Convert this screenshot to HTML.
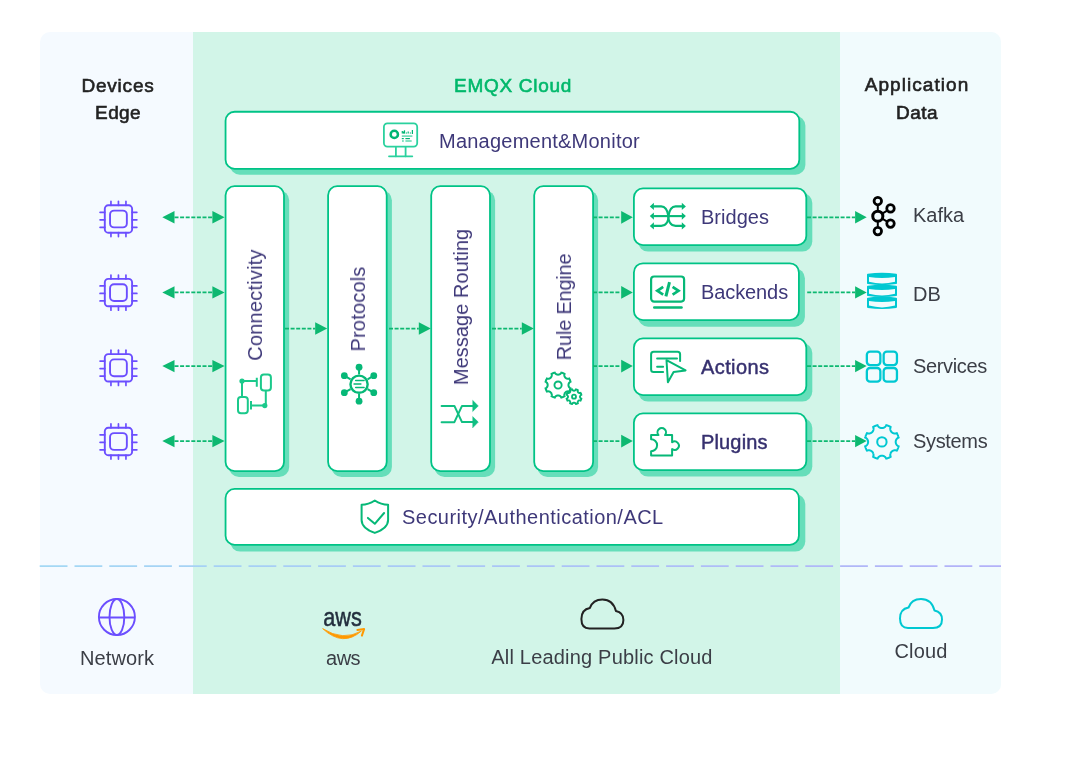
<!DOCTYPE html>
<html><head><meta charset="utf-8"><style>
*{margin:0;padding:0;box-sizing:border-box}
html,body{width:1080px;height:774px;background:#fff;overflow:hidden;position:relative;font-family:"Liberation Sans",sans-serif}
.panel{position:absolute;left:40px;top:32px;width:961px;height:662px;border-radius:10px;background:#F5FAFF;overflow:hidden}
.green{position:absolute;left:193px;top:32px;width:647px;height:662px;background:#D2F5E8}
.rightp{position:absolute;left:840px;top:32px;width:161px;height:662px;background:#F1FBFD;border-radius:0 10px 10px 0}
.bx{position:absolute;background:#fff;border:2px solid #00C386}
.t{position:absolute;white-space:nowrap;-webkit-font-smoothing:antialiased;will-change:transform}
svg{position:absolute;left:0;top:0;will-change:transform}
</style></head><body>
<div class="panel"></div>
<div class="green"></div>
<div class="rightp"></div>
<svg width="1080" height="774" viewBox="0 0 1080 774">
<rect x="229.85" y="115.85" width="575.55" height="58.95" rx="10" fill="#66DEBA"/>
<rect x="225.55" y="111.75" width="573.75" height="57.15" rx="9.10" fill="#fff" stroke="#00C386" stroke-width="1.8"/>
<rect x="228.95" y="190.20" width="60.25" height="286.80" rx="10" fill="#66DEBA"/>
<rect x="225.55" y="186.10" width="58.45" height="285.00" rx="9.10" fill="#fff" stroke="#00C386" stroke-width="1.8"/>
<rect x="331.50" y="190.20" width="60.40" height="286.80" rx="10" fill="#66DEBA"/>
<rect x="328.10" y="186.10" width="58.60" height="285.00" rx="9.10" fill="#fff" stroke="#00C386" stroke-width="1.8"/>
<rect x="434.50" y="190.20" width="60.60" height="286.80" rx="10" fill="#66DEBA"/>
<rect x="431.20" y="186.10" width="58.80" height="285.00" rx="9.10" fill="#fff" stroke="#00C386" stroke-width="1.8"/>
<rect x="537.40" y="190.20" width="60.70" height="286.80" rx="10" fill="#66DEBA"/>
<rect x="534.20" y="186.10" width="58.90" height="285.00" rx="9.10" fill="#fff" stroke="#00C386" stroke-width="1.8"/>
<rect x="638.10" y="193.10" width="174.20" height="58.50" rx="10" fill="#66DEBA"/>
<rect x="633.90" y="188.40" width="172.40" height="56.70" rx="9.10" fill="#fff" stroke="#00C386" stroke-width="1.8"/>
<rect x="638.10" y="268.20" width="166.80" height="58.60" rx="10" fill="#66DEBA"/>
<rect x="633.90" y="263.30" width="165.00" height="56.80" rx="9.10" fill="#fff" stroke="#00C386" stroke-width="1.8"/>
<rect x="638.10" y="343.10" width="174.20" height="58.50" rx="10" fill="#66DEBA"/>
<rect x="633.90" y="338.40" width="172.40" height="56.70" rx="9.10" fill="#fff" stroke="#00C386" stroke-width="1.8"/>
<rect x="638.10" y="418.10" width="174.20" height="58.50" rx="10" fill="#66DEBA"/>
<rect x="633.90" y="413.40" width="172.40" height="56.70" rx="9.10" fill="#fff" stroke="#00C386" stroke-width="1.8"/>
<rect x="230.15" y="493.97" width="575.15" height="57.63" rx="10" fill="#66DEBA"/>
<rect x="225.55" y="488.97" width="573.35" height="55.83" rx="9.10" fill="#fff" stroke="#00C386" stroke-width="1.8"/>
<line x1="174.5" y1="217.3" x2="212.4" y2="217.3" stroke="#0DB870" stroke-width="1.7" stroke-dasharray="4 1.6"/>
<path d="M224.6 217.3 L212.4 211.10000000000002 L212.4 223.5 Z" fill="#0DB870"/>
<path d="M162.3 217.3 L174.5 211.10000000000002 L174.5 223.5 Z" fill="#0DB870"/>
<line x1="174.5" y1="292.4" x2="212.4" y2="292.4" stroke="#0DB870" stroke-width="1.7" stroke-dasharray="4 1.6"/>
<path d="M224.6 292.4 L212.4 286.2 L212.4 298.59999999999997 Z" fill="#0DB870"/>
<path d="M162.3 292.4 L174.5 286.2 L174.5 298.59999999999997 Z" fill="#0DB870"/>
<line x1="174.5" y1="366.1" x2="212.4" y2="366.1" stroke="#0DB870" stroke-width="1.7" stroke-dasharray="4 1.6"/>
<path d="M224.6 366.1 L212.4 359.90000000000003 L212.4 372.3 Z" fill="#0DB870"/>
<path d="M162.3 366.1 L174.5 359.90000000000003 L174.5 372.3 Z" fill="#0DB870"/>
<line x1="174.5" y1="441.1" x2="212.4" y2="441.1" stroke="#0DB870" stroke-width="1.7" stroke-dasharray="4 1.6"/>
<path d="M224.6 441.1 L212.4 434.90000000000003 L212.4 447.3 Z" fill="#0DB870"/>
<path d="M162.3 441.1 L174.5 434.90000000000003 L174.5 447.3 Z" fill="#0DB870"/>
<line x1="285" y1="328.6" x2="315.2" y2="328.6" stroke="#0DB870" stroke-width="1.7" stroke-dasharray="4 1.6"/>
<path d="M327.2 328.6 L315.2 322.35 L315.2 334.85 Z" fill="#0DB870"/>
<line x1="389" y1="328.6" x2="418.8" y2="328.6" stroke="#0DB870" stroke-width="1.7" stroke-dasharray="4 1.6"/>
<path d="M430.8 328.6 L418.8 322.35 L418.8 334.85 Z" fill="#0DB870"/>
<line x1="492" y1="328.6" x2="521.8" y2="328.6" stroke="#0DB870" stroke-width="1.7" stroke-dasharray="4 1.6"/>
<path d="M533.8 328.6 L521.8 322.35 L521.8 334.85 Z" fill="#0DB870"/>
<line x1="593" y1="217.3" x2="621.1999999999999" y2="217.3" stroke="#0DB870" stroke-width="1.7" stroke-dasharray="4 1.6"/>
<path d="M632.8 217.3 L621.1999999999999 210.95000000000002 L621.1999999999999 223.65 Z" fill="#0DB870"/>
<line x1="593" y1="292.4" x2="621.1999999999999" y2="292.4" stroke="#0DB870" stroke-width="1.7" stroke-dasharray="4 1.6"/>
<path d="M632.8 292.4 L621.1999999999999 286.04999999999995 L621.1999999999999 298.75 Z" fill="#0DB870"/>
<line x1="593" y1="366.1" x2="621.1999999999999" y2="366.1" stroke="#0DB870" stroke-width="1.7" stroke-dasharray="4 1.6"/>
<path d="M632.8 366.1 L621.1999999999999 359.75 L621.1999999999999 372.45000000000005 Z" fill="#0DB870"/>
<line x1="593" y1="441.1" x2="621.1999999999999" y2="441.1" stroke="#0DB870" stroke-width="1.7" stroke-dasharray="4 1.6"/>
<path d="M632.8 441.1 L621.1999999999999 434.75 L621.1999999999999 447.45000000000005 Z" fill="#0DB870"/>
<line x1="807" y1="217.3" x2="855.1" y2="217.3" stroke="#0DB870" stroke-width="1.7" stroke-dasharray="4 1.6"/>
<path d="M866.7 217.3 L855.1 211.10000000000002 L855.1 223.5 Z" fill="#0DB870"/>
<line x1="807.2" y1="292.4" x2="855.1" y2="292.4" stroke="#0DB870" stroke-width="1.7" stroke-dasharray="4 1.6"/>
<path d="M866.7 292.4 L855.1 286.2 L855.1 298.59999999999997 Z" fill="#0DB870"/>
<line x1="807" y1="366.1" x2="855.1" y2="366.1" stroke="#0DB870" stroke-width="1.7" stroke-dasharray="4 1.6"/>
<path d="M866.7 366.1 L855.1 359.90000000000003 L855.1 372.3 Z" fill="#0DB870"/>
<line x1="807" y1="441.1" x2="855.1" y2="441.1" stroke="#0DB870" stroke-width="1.7" stroke-dasharray="4 1.6"/>
<path d="M866.7 441.1 L855.1 434.90000000000003 L855.1 447.3 Z" fill="#0DB870"/>
<g fill="none" stroke="#6B4EFF" stroke-width="1.9" stroke-linecap="round"><rect x="104.8" y="205.3" width="27.3" height="27.4" rx="3.5"/><rect x="110.05" y="210.6" width="16.8" height="16.8" rx="4"/></g><g fill="none" stroke="#6B4EFF" stroke-width="1.7" stroke-linecap="round"><line x1="110.95" y1="205.3" x2="110.95" y2="201.4"/><line x1="110.95" y1="232.7" x2="110.95" y2="236.6"/><line x1="104.8" y1="212.3" x2="100.05000000000001" y2="212.3"/><line x1="132.1" y1="212.3" x2="136.85" y2="212.3"/><line x1="118.45" y1="205.3" x2="118.45" y2="201.4"/><line x1="118.45" y1="232.7" x2="118.45" y2="236.6"/><line x1="104.8" y1="219.8" x2="100.05000000000001" y2="219.8"/><line x1="132.1" y1="219.8" x2="136.85" y2="219.8"/><line x1="125.95" y1="205.3" x2="125.95" y2="201.4"/><line x1="125.95" y1="232.7" x2="125.95" y2="236.6"/><line x1="104.8" y1="227.3" x2="100.05000000000001" y2="227.3"/><line x1="132.1" y1="227.3" x2="136.85" y2="227.3"/></g>
<g fill="none" stroke="#6B4EFF" stroke-width="1.9" stroke-linecap="round"><rect x="104.8" y="278.90000000000003" width="27.3" height="27.4" rx="3.5"/><rect x="110.05" y="284.20000000000005" width="16.8" height="16.8" rx="4"/></g><g fill="none" stroke="#6B4EFF" stroke-width="1.7" stroke-linecap="round"><line x1="110.95" y1="278.90000000000003" x2="110.95" y2="275.0"/><line x1="110.95" y1="306.3" x2="110.95" y2="310.20000000000005"/><line x1="104.8" y1="285.90000000000003" x2="100.05000000000001" y2="285.90000000000003"/><line x1="132.1" y1="285.90000000000003" x2="136.85" y2="285.90000000000003"/><line x1="118.45" y1="278.90000000000003" x2="118.45" y2="275.0"/><line x1="118.45" y1="306.3" x2="118.45" y2="310.20000000000005"/><line x1="104.8" y1="293.40000000000003" x2="100.05000000000001" y2="293.40000000000003"/><line x1="132.1" y1="293.40000000000003" x2="136.85" y2="293.40000000000003"/><line x1="125.95" y1="278.90000000000003" x2="125.95" y2="275.0"/><line x1="125.95" y1="306.3" x2="125.95" y2="310.20000000000005"/><line x1="104.8" y1="300.90000000000003" x2="100.05000000000001" y2="300.90000000000003"/><line x1="132.1" y1="300.90000000000003" x2="136.85" y2="300.90000000000003"/></g>
<g fill="none" stroke="#6B4EFF" stroke-width="1.9" stroke-linecap="round"><rect x="104.8" y="354.1" width="27.3" height="27.4" rx="3.5"/><rect x="110.05" y="359.40000000000003" width="16.8" height="16.8" rx="4"/></g><g fill="none" stroke="#6B4EFF" stroke-width="1.7" stroke-linecap="round"><line x1="110.95" y1="354.1" x2="110.95" y2="350.2"/><line x1="110.95" y1="381.5" x2="110.95" y2="385.40000000000003"/><line x1="104.8" y1="361.1" x2="100.05000000000001" y2="361.1"/><line x1="132.1" y1="361.1" x2="136.85" y2="361.1"/><line x1="118.45" y1="354.1" x2="118.45" y2="350.2"/><line x1="118.45" y1="381.5" x2="118.45" y2="385.40000000000003"/><line x1="104.8" y1="368.6" x2="100.05000000000001" y2="368.6"/><line x1="132.1" y1="368.6" x2="136.85" y2="368.6"/><line x1="125.95" y1="354.1" x2="125.95" y2="350.2"/><line x1="125.95" y1="381.5" x2="125.95" y2="385.40000000000003"/><line x1="104.8" y1="376.1" x2="100.05000000000001" y2="376.1"/><line x1="132.1" y1="376.1" x2="136.85" y2="376.1"/></g>
<g fill="none" stroke="#6B4EFF" stroke-width="1.9" stroke-linecap="round"><rect x="104.8" y="427.8" width="27.3" height="27.4" rx="3.5"/><rect x="110.05" y="433.1" width="16.8" height="16.8" rx="4"/></g><g fill="none" stroke="#6B4EFF" stroke-width="1.7" stroke-linecap="round"><line x1="110.95" y1="427.8" x2="110.95" y2="423.9"/><line x1="110.95" y1="455.2" x2="110.95" y2="459.1"/><line x1="104.8" y1="434.8" x2="100.05000000000001" y2="434.8"/><line x1="132.1" y1="434.8" x2="136.85" y2="434.8"/><line x1="118.45" y1="427.8" x2="118.45" y2="423.9"/><line x1="118.45" y1="455.2" x2="118.45" y2="459.1"/><line x1="104.8" y1="442.3" x2="100.05000000000001" y2="442.3"/><line x1="132.1" y1="442.3" x2="136.85" y2="442.3"/><line x1="125.95" y1="427.8" x2="125.95" y2="423.9"/><line x1="125.95" y1="455.2" x2="125.95" y2="459.1"/><line x1="104.8" y1="449.8" x2="100.05000000000001" y2="449.8"/><line x1="132.1" y1="449.8" x2="136.85" y2="449.8"/></g>
<defs><linearGradient id="dg" gradientUnits="userSpaceOnUse" x1="40" x2="1001" y1="0" y2="0"><stop offset="0" stop-color="#A3D8F4"/><stop offset="1" stop-color="#B3B1F8"/></linearGradient></defs>
<line x1="39.7" y1="566.2" x2="1001" y2="566.2" stroke="url(#dg)" stroke-width="1.8" stroke-dasharray="27.8 7"/>
<g fill="none" stroke="#2BD19E" stroke-width="1.8" stroke-linecap="round"><rect x="383.9" y="123.4" width="33.3" height="23.2" rx="3.5"/><line x1="395.9" y1="147.5" x2="395.9" y2="156.3"/><line x1="405.6" y1="147.5" x2="405.6" y2="156.3"/><line x1="389" y1="156.3" x2="412.3" y2="156.3"/></g>
<circle cx="394.3" cy="134.4" r="3.65" fill="none" stroke="#00B574" stroke-width="2.5"/><g fill="none" stroke-width="1.2" stroke-linecap="butt"><g stroke="#00B574"><line x1="402.3" y1="131" x2="402.3" y2="133.6"/><line x1="403.5" y1="131.5" x2="403.5" y2="133.6"/><line x1="404.5" y1="130.3" x2="404.5" y2="133.6"/><line x1="406.4" y1="132.6" x2="406.4" y2="133.6"/><line x1="408.2" y1="131.5" x2="408.2" y2="133.6"/><line x1="410.4" y1="132.6" x2="410.4" y2="133.6"/><line x1="412.4" y1="130" x2="412.4" y2="134"/><line x1="401.8" y1="138.6" x2="403.8" y2="138.6"/><line x1="405.4" y1="138.6" x2="409.9" y2="138.6"/></g><g stroke="#5ED8AE" stroke-width="1.5"><line x1="401.8" y1="136.1" x2="412.4" y2="136.1"/><line x1="402" y1="141" x2="403.8" y2="141"/><line x1="405.4" y1="141" x2="411.7" y2="141"/></g></g>
<g transform="translate(232,368)" fill="none" stroke="#1BC98B" stroke-width="2" stroke-linecap="butt"><rect x="28.9" y="6.4" width="10" height="16.1" rx="3"/><rect x="6" y="28.9" width="9.8" height="16.4" rx="3"/><path d="M10 13.1 H24.8 M24.8 9.7 V18.8 M10 13.1 V28 M33.8 22.5 V37.6 H19 M19 32.9 V41.6"/><circle cx="10" cy="13.1" r="2.6" fill="#1BC98B" stroke="none"/><circle cx="32.8" cy="37.6" r="2.6" fill="#1BC98B" stroke="none"/></g>
<g fill="none" stroke="#06B877" stroke-width="2"><circle cx="359.06" cy="384.2" r="8.6" stroke-width="2.4"/><line x1="359.06" y1="374.40" x2="359.06" y2="367.20"/><circle cx="359.06" cy="367.20" r="3.4" fill="#06B877" stroke="none"/><line x1="350.57" y1="379.30" x2="344.34" y2="375.70"/><circle cx="344.34" cy="375.70" r="3.4" fill="#06B877" stroke="none"/><line x1="350.57" y1="389.10" x2="344.34" y2="392.70"/><circle cx="344.34" cy="392.70" r="3.4" fill="#06B877" stroke="none"/><line x1="359.06" y1="394.00" x2="359.06" y2="401.20"/><circle cx="359.06" cy="401.20" r="3.4" fill="#06B877" stroke="none"/><line x1="367.55" y1="389.10" x2="373.78" y2="392.70"/><circle cx="373.78" cy="392.70" r="3.4" fill="#06B877" stroke="none"/><line x1="367.55" y1="379.30" x2="373.78" y2="375.70"/><circle cx="373.78" cy="375.70" r="3.4" fill="#06B877" stroke="none"/><g stroke-width="1.5" stroke-linecap="round"><line x1="355.66" y1="380.5" x2="364.06" y2="380.5"/><line x1="354.06" y1="383.9" x2="360.86" y2="383.9"/><line x1="355.66" y1="387.5" x2="364.06" y2="387.5"/></g></g>
<g transform="translate(436,390)" fill="none" stroke="#10BF82" stroke-width="2" stroke-linecap="round" stroke-linejoin="round"><path d="M5.6 15.9 H18.4 L26 32.1 H37"/><path d="M5.6 32.2 H18.4 L26 15.9 H37"/><path d="M36.9 10.6 L42.3 15.9 L36.9 21.3 Z" fill="#10BF82" stroke-width="0.5"/><path d="M36.9 26.8 L42.3 32.1 L36.9 37.6 Z" fill="#10BF82" stroke-width="0.5"/></g>
<path d="M568.46 385.06 L568.46 385.13 L568.46 385.20 L568.47 385.26 L568.47 385.33 L568.48 385.40 L568.48 385.47 L568.49 385.54 L568.50 385.61 L568.51 385.68 L568.52 385.75 L568.54 385.82 L568.55 385.89 L568.57 385.96 L568.59 386.03 L568.61 386.10 L568.63 386.17 L568.65 386.24 L568.68 386.32 L568.70 386.39 L568.73 386.47 L568.77 386.54 L568.80 386.62 L568.83 386.69 L568.87 386.77 L568.92 386.85 L568.96 386.93 L569.01 387.02 L569.06 387.10 L569.12 387.18 L569.18 387.27 L569.25 387.36 L569.33 387.45 L569.41 387.55 L569.51 387.65 L569.62 387.76 L569.76 387.87 L569.93 387.99 L570.21 388.15 L570.54 388.32 L570.52 388.40 L570.50 388.48 L570.48 388.56 L570.45 388.64 L570.43 388.72 L570.40 388.80 L570.38 388.89 L570.35 388.97 L570.33 389.05 L570.30 389.13 L570.28 389.21 L570.25 389.29 L570.22 389.37 L570.19 389.45 L570.16 389.52 L570.13 389.60 L570.10 389.68 L570.07 389.76 L570.04 389.84 L570.01 389.92 L569.98 390.00 L569.95 390.07 L569.91 390.15 L569.88 390.23 L569.84 390.31 L569.81 390.38 L569.78 390.46 L569.74 390.54 L569.70 390.61 L569.67 390.69 L569.63 390.77 L569.59 390.84 L569.55 390.92 L569.52 390.99 L569.48 391.07 L569.44 391.14 L569.40 391.22 L569.36 391.29 L569.32 391.36 L569.27 391.44 L569.23 391.51 L569.19 391.58 L568.84 391.47 L568.53 391.38 L568.32 391.35 L568.14 391.33 L567.99 391.32 L567.85 391.33 L567.72 391.33 L567.60 391.34 L567.49 391.36 L567.38 391.38 L567.28 391.40 L567.18 391.42 L567.09 391.44 L567.00 391.47 L566.92 391.50 L566.83 391.52 L566.75 391.55 L566.68 391.58 L566.60 391.61 L566.53 391.65 L566.46 391.68 L566.39 391.71 L566.32 391.75 L566.25 391.78 L566.19 391.82 L566.13 391.86 L566.06 391.90 L566.00 391.93 L565.94 391.97 L565.89 392.01 L565.83 392.06 L565.77 392.10 L565.72 392.14 L565.67 392.18 L565.61 392.23 L565.56 392.27 L565.51 392.32 L565.46 392.37 L565.41 392.41 L565.37 392.46 L565.32 392.51 L565.27 392.56 L565.23 392.61 L565.18 392.67 L565.14 392.72 L565.10 392.77 L565.06 392.83 L565.01 392.89 L564.97 392.94 L564.93 393.00 L564.90 393.06 L564.86 393.13 L564.82 393.19 L564.78 393.25 L564.75 393.32 L564.71 393.39 L564.68 393.46 L564.65 393.53 L564.61 393.60 L564.58 393.68 L564.55 393.75 L564.52 393.83 L564.50 393.92 L564.47 394.00 L564.44 394.09 L564.42 394.18 L564.40 394.28 L564.38 394.38 L564.36 394.49 L564.34 394.60 L564.33 394.72 L564.33 394.85 L564.32 394.99 L564.33 395.14 L564.35 395.32 L564.38 395.53 L564.47 395.84 L564.58 396.19 L564.51 396.23 L564.44 396.27 L564.36 396.32 L564.29 396.36 L564.22 396.40 L564.14 396.44 L564.07 396.48 L563.99 396.52 L563.92 396.55 L563.84 396.59 L563.77 396.63 L563.69 396.67 L563.61 396.70 L563.54 396.74 L563.46 396.78 L563.38 396.81 L563.31 396.84 L563.23 396.88 L563.15 396.91 L563.07 396.95 L563.00 396.98 L562.92 397.01 L562.84 397.04 L562.76 397.07 L562.68 397.10 L562.60 397.13 L562.52 397.16 L562.45 397.19 L562.37 397.22 L562.29 397.25 L562.21 397.28 L562.13 397.30 L562.05 397.33 L561.97 397.35 L561.89 397.38 L561.80 397.40 L561.72 397.43 L561.64 397.45 L561.56 397.48 L561.48 397.50 L561.40 397.52 L561.32 397.54 L561.15 397.21 L560.99 396.93 L560.87 396.76 L560.76 396.62 L560.65 396.51 L560.55 396.41 L560.45 396.33 L560.36 396.25 L560.27 396.18 L560.18 396.12 L560.10 396.06 L560.02 396.01 L559.93 395.96 L559.85 395.92 L559.77 395.87 L559.69 395.83 L559.62 395.80 L559.54 395.77 L559.47 395.73 L559.39 395.70 L559.32 395.68 L559.24 395.65 L559.17 395.63 L559.10 395.61 L559.03 395.59 L558.96 395.57 L558.89 395.55 L558.82 395.54 L558.75 395.52 L558.68 395.51 L558.61 395.50 L558.54 395.49 L558.47 395.48 L558.40 395.48 L558.33 395.47 L558.26 395.47 L558.20 395.46 L558.13 395.46 L558.06 395.46 L557.99 395.46 L557.92 395.46 L557.86 395.47 L557.79 395.47 L557.72 395.48 L557.65 395.48 L557.58 395.49 L557.51 395.50 L557.44 395.51 L557.37 395.52 L557.30 395.54 L557.23 395.55 L557.16 395.57 L557.09 395.59 L557.02 395.61 L556.95 395.63 L556.88 395.65 L556.80 395.68 L556.73 395.70 L556.65 395.73 L556.58 395.77 L556.50 395.80 L556.43 395.83 L556.35 395.87 L556.27 395.92 L556.19 395.96 L556.10 396.01 L556.02 396.06 L555.94 396.12 L555.85 396.18 L555.76 396.25 L555.67 396.33 L555.57 396.41 L555.47 396.51 L555.36 396.62 L555.25 396.76 L555.13 396.93 L554.97 397.21 L554.80 397.54 L554.72 397.52 L554.64 397.50 L554.56 397.48 L554.48 397.45 L554.40 397.43 L554.32 397.40 L554.23 397.38 L554.15 397.35 L554.07 397.33 L553.99 397.30 L553.91 397.28 L553.83 397.25 L553.75 397.22 L553.67 397.19 L553.60 397.16 L553.52 397.13 L553.44 397.10 L553.36 397.07 L553.28 397.04 L553.20 397.01 L553.12 396.98 L553.05 396.95 L552.97 396.91 L552.89 396.88 L552.81 396.84 L552.74 396.81 L552.66 396.78 L552.58 396.74 L552.51 396.70 L552.43 396.67 L552.35 396.63 L552.28 396.59 L552.20 396.55 L552.13 396.52 L552.05 396.48 L551.98 396.44 L551.90 396.40 L551.83 396.36 L551.76 396.32 L551.68 396.27 L551.61 396.23 L551.54 396.19 L551.65 395.84 L551.74 395.53 L551.77 395.32 L551.79 395.14 L551.80 394.99 L551.79 394.85 L551.79 394.72 L551.78 394.60 L551.76 394.49 L551.74 394.38 L551.72 394.28 L551.70 394.18 L551.68 394.09 L551.65 394.00 L551.62 393.92 L551.60 393.83 L551.57 393.75 L551.54 393.68 L551.51 393.60 L551.47 393.53 L551.44 393.46 L551.41 393.39 L551.37 393.32 L551.34 393.25 L551.30 393.19 L551.26 393.13 L551.22 393.06 L551.19 393.00 L551.15 392.94 L551.11 392.89 L551.06 392.83 L551.02 392.77 L550.98 392.72 L550.94 392.67 L550.89 392.61 L550.85 392.56 L550.80 392.51 L550.75 392.46 L550.71 392.41 L550.66 392.37 L550.61 392.32 L550.56 392.27 L550.51 392.23 L550.45 392.18 L550.40 392.14 L550.35 392.10 L550.29 392.06 L550.23 392.01 L550.18 391.97 L550.12 391.93 L550.06 391.90 L549.99 391.86 L549.93 391.82 L549.87 391.78 L549.80 391.75 L549.73 391.71 L549.66 391.68 L549.59 391.65 L549.52 391.61 L549.44 391.58 L549.37 391.55 L549.29 391.52 L549.20 391.50 L549.12 391.47 L549.03 391.44 L548.94 391.42 L548.84 391.40 L548.74 391.38 L548.63 391.36 L548.52 391.34 L548.40 391.33 L548.27 391.33 L548.13 391.32 L547.98 391.33 L547.80 391.35 L547.59 391.38 L547.28 391.47 L546.93 391.58 L546.89 391.51 L546.85 391.44 L546.80 391.36 L546.76 391.29 L546.72 391.22 L546.68 391.14 L546.64 391.07 L546.60 390.99 L546.57 390.92 L546.53 390.84 L546.49 390.77 L546.45 390.69 L546.42 390.61 L546.38 390.54 L546.34 390.46 L546.31 390.38 L546.28 390.31 L546.24 390.23 L546.21 390.15 L546.17 390.07 L546.14 390.00 L546.11 389.92 L546.08 389.84 L546.05 389.76 L546.02 389.68 L545.99 389.60 L545.96 389.52 L545.93 389.45 L545.90 389.37 L545.87 389.29 L545.84 389.21 L545.82 389.13 L545.79 389.05 L545.77 388.97 L545.74 388.89 L545.72 388.80 L545.69 388.72 L545.67 388.64 L545.64 388.56 L545.62 388.48 L545.60 388.40 L545.58 388.32 L545.91 388.15 L546.19 387.99 L546.36 387.87 L546.50 387.76 L546.61 387.65 L546.71 387.55 L546.79 387.45 L546.87 387.36 L546.94 387.27 L547.00 387.18 L547.06 387.10 L547.11 387.02 L547.16 386.93 L547.20 386.85 L547.25 386.77 L547.29 386.69 L547.32 386.62 L547.35 386.54 L547.39 386.47 L547.42 386.39 L547.44 386.32 L547.47 386.24 L547.49 386.17 L547.51 386.10 L547.53 386.03 L547.55 385.96 L547.57 385.89 L547.58 385.82 L547.60 385.75 L547.61 385.68 L547.62 385.61 L547.63 385.54 L547.64 385.47 L547.64 385.40 L547.65 385.33 L547.65 385.26 L547.66 385.20 L547.66 385.13 L547.66 385.06 L547.66 384.99 L547.66 384.92 L547.65 384.86 L547.65 384.79 L547.64 384.72 L547.64 384.65 L547.63 384.58 L547.62 384.51 L547.61 384.44 L547.60 384.37 L547.58 384.30 L547.57 384.23 L547.55 384.16 L547.53 384.09 L547.51 384.02 L547.49 383.95 L547.47 383.88 L547.44 383.80 L547.42 383.73 L547.39 383.65 L547.35 383.58 L547.32 383.50 L547.29 383.43 L547.25 383.35 L547.20 383.27 L547.16 383.19 L547.11 383.10 L547.06 383.02 L547.00 382.94 L546.94 382.85 L546.87 382.76 L546.79 382.67 L546.71 382.57 L546.61 382.47 L546.50 382.36 L546.36 382.25 L546.19 382.13 L545.91 381.97 L545.58 381.80 L545.60 381.72 L545.62 381.64 L545.64 381.56 L545.67 381.48 L545.69 381.40 L545.72 381.32 L545.74 381.23 L545.77 381.15 L545.79 381.07 L545.82 380.99 L545.84 380.91 L545.87 380.83 L545.90 380.75 L545.93 380.67 L545.96 380.60 L545.99 380.52 L546.02 380.44 L546.05 380.36 L546.08 380.28 L546.11 380.20 L546.14 380.12 L546.17 380.05 L546.21 379.97 L546.24 379.89 L546.28 379.81 L546.31 379.74 L546.34 379.66 L546.38 379.58 L546.42 379.51 L546.45 379.43 L546.49 379.35 L546.53 379.28 L546.57 379.20 L546.60 379.13 L546.64 379.05 L546.68 378.98 L546.72 378.90 L546.76 378.83 L546.80 378.76 L546.85 378.68 L546.89 378.61 L546.93 378.54 L547.28 378.65 L547.59 378.74 L547.80 378.77 L547.98 378.79 L548.13 378.80 L548.27 378.79 L548.40 378.79 L548.52 378.78 L548.63 378.76 L548.74 378.74 L548.84 378.72 L548.94 378.70 L549.03 378.68 L549.12 378.65 L549.20 378.62 L549.29 378.60 L549.37 378.57 L549.44 378.54 L549.52 378.51 L549.59 378.47 L549.66 378.44 L549.73 378.41 L549.80 378.37 L549.87 378.34 L549.93 378.30 L549.99 378.26 L550.06 378.22 L550.12 378.19 L550.18 378.15 L550.23 378.11 L550.29 378.06 L550.35 378.02 L550.40 377.98 L550.45 377.94 L550.51 377.89 L550.56 377.85 L550.61 377.80 L550.66 377.75 L550.71 377.71 L550.75 377.66 L550.80 377.61 L550.85 377.56 L550.89 377.51 L550.94 377.45 L550.98 377.40 L551.02 377.35 L551.06 377.29 L551.11 377.23 L551.15 377.18 L551.19 377.12 L551.22 377.06 L551.26 376.99 L551.30 376.93 L551.34 376.87 L551.37 376.80 L551.41 376.73 L551.44 376.66 L551.47 376.59 L551.51 376.52 L551.54 376.44 L551.57 376.37 L551.60 376.29 L551.62 376.20 L551.65 376.12 L551.68 376.03 L551.70 375.94 L551.72 375.84 L551.74 375.74 L551.76 375.63 L551.78 375.52 L551.79 375.40 L551.79 375.27 L551.80 375.13 L551.79 374.98 L551.77 374.80 L551.74 374.59 L551.65 374.28 L551.54 373.93 L551.61 373.89 L551.68 373.85 L551.76 373.80 L551.83 373.76 L551.90 373.72 L551.98 373.68 L552.05 373.64 L552.13 373.60 L552.20 373.57 L552.28 373.53 L552.35 373.49 L552.43 373.45 L552.51 373.42 L552.58 373.38 L552.66 373.34 L552.74 373.31 L552.81 373.28 L552.89 373.24 L552.97 373.21 L553.05 373.17 L553.12 373.14 L553.20 373.11 L553.28 373.08 L553.36 373.05 L553.44 373.02 L553.52 372.99 L553.60 372.96 L553.67 372.93 L553.75 372.90 L553.83 372.87 L553.91 372.84 L553.99 372.82 L554.07 372.79 L554.15 372.77 L554.23 372.74 L554.32 372.72 L554.40 372.69 L554.48 372.67 L554.56 372.64 L554.64 372.62 L554.72 372.60 L554.80 372.58 L554.97 372.91 L555.13 373.19 L555.25 373.36 L555.36 373.50 L555.47 373.61 L555.57 373.71 L555.67 373.79 L555.76 373.87 L555.85 373.94 L555.94 374.00 L556.02 374.06 L556.10 374.11 L556.19 374.16 L556.27 374.20 L556.35 374.25 L556.43 374.29 L556.50 374.32 L556.58 374.35 L556.65 374.39 L556.73 374.42 L556.80 374.44 L556.88 374.47 L556.95 374.49 L557.02 374.51 L557.09 374.53 L557.16 374.55 L557.23 374.57 L557.30 374.58 L557.37 374.60 L557.44 374.61 L557.51 374.62 L557.58 374.63 L557.65 374.64 L557.72 374.64 L557.79 374.65 L557.86 374.65 L557.92 374.66 L557.99 374.66 L558.06 374.66 L558.13 374.66 L558.20 374.66 L558.26 374.65 L558.33 374.65 L558.40 374.64 L558.47 374.64 L558.54 374.63 L558.61 374.62 L558.68 374.61 L558.75 374.60 L558.82 374.58 L558.89 374.57 L558.96 374.55 L559.03 374.53 L559.10 374.51 L559.17 374.49 L559.24 374.47 L559.32 374.44 L559.39 374.42 L559.47 374.39 L559.54 374.35 L559.62 374.32 L559.69 374.29 L559.77 374.25 L559.85 374.20 L559.93 374.16 L560.02 374.11 L560.10 374.06 L560.18 374.00 L560.27 373.94 L560.36 373.87 L560.45 373.79 L560.55 373.71 L560.65 373.61 L560.76 373.50 L560.87 373.36 L560.99 373.19 L561.15 372.91 L561.32 372.58 L561.40 372.60 L561.48 372.62 L561.56 372.64 L561.64 372.67 L561.72 372.69 L561.80 372.72 L561.89 372.74 L561.97 372.77 L562.05 372.79 L562.13 372.82 L562.21 372.84 L562.29 372.87 L562.37 372.90 L562.45 372.93 L562.52 372.96 L562.60 372.99 L562.68 373.02 L562.76 373.05 L562.84 373.08 L562.92 373.11 L563.00 373.14 L563.07 373.17 L563.15 373.21 L563.23 373.24 L563.31 373.28 L563.38 373.31 L563.46 373.34 L563.54 373.38 L563.61 373.42 L563.69 373.45 L563.77 373.49 L563.84 373.53 L563.92 373.57 L563.99 373.60 L564.07 373.64 L564.14 373.68 L564.22 373.72 L564.29 373.76 L564.36 373.80 L564.44 373.85 L564.51 373.89 L564.58 373.93 L564.47 374.28 L564.38 374.59 L564.35 374.80 L564.33 374.98 L564.32 375.13 L564.33 375.27 L564.33 375.40 L564.34 375.52 L564.36 375.63 L564.38 375.74 L564.40 375.84 L564.42 375.94 L564.44 376.03 L564.47 376.12 L564.50 376.20 L564.52 376.29 L564.55 376.37 L564.58 376.44 L564.61 376.52 L564.65 376.59 L564.68 376.66 L564.71 376.73 L564.75 376.80 L564.78 376.87 L564.82 376.93 L564.86 376.99 L564.90 377.06 L564.93 377.12 L564.97 377.18 L565.01 377.23 L565.06 377.29 L565.10 377.35 L565.14 377.40 L565.18 377.45 L565.23 377.51 L565.27 377.56 L565.32 377.61 L565.37 377.66 L565.41 377.71 L565.46 377.75 L565.51 377.80 L565.56 377.85 L565.61 377.89 L565.67 377.94 L565.72 377.98 L565.77 378.02 L565.83 378.06 L565.89 378.11 L565.94 378.15 L566.00 378.19 L566.06 378.22 L566.13 378.26 L566.19 378.30 L566.25 378.34 L566.32 378.37 L566.39 378.41 L566.46 378.44 L566.53 378.47 L566.60 378.51 L566.68 378.54 L566.75 378.57 L566.83 378.60 L566.92 378.62 L567.00 378.65 L567.09 378.68 L567.18 378.70 L567.28 378.72 L567.38 378.74 L567.49 378.76 L567.60 378.78 L567.72 378.79 L567.85 378.79 L567.99 378.80 L568.14 378.79 L568.32 378.77 L568.53 378.74 L568.84 378.65 L569.19 378.54 L569.23 378.61 L569.27 378.68 L569.32 378.76 L569.36 378.83 L569.40 378.90 L569.44 378.98 L569.48 379.05 L569.52 379.13 L569.55 379.20 L569.59 379.28 L569.63 379.35 L569.67 379.43 L569.70 379.51 L569.74 379.58 L569.78 379.66 L569.81 379.74 L569.84 379.81 L569.88 379.89 L569.91 379.97 L569.95 380.05 L569.98 380.12 L570.01 380.20 L570.04 380.28 L570.07 380.36 L570.10 380.44 L570.13 380.52 L570.16 380.60 L570.19 380.67 L570.22 380.75 L570.25 380.83 L570.28 380.91 L570.30 380.99 L570.33 381.07 L570.35 381.15 L570.38 381.23 L570.40 381.32 L570.43 381.40 L570.45 381.48 L570.48 381.56 L570.50 381.64 L570.52 381.72 L570.54 381.80 L570.21 381.97 L569.93 382.13 L569.76 382.25 L569.62 382.36 L569.51 382.47 L569.41 382.57 L569.33 382.67 L569.25 382.76 L569.18 382.85 L569.12 382.94 L569.06 383.02 L569.01 383.10 L568.96 383.19 L568.92 383.27 L568.87 383.35 L568.83 383.43 L568.80 383.50 L568.77 383.58 L568.73 383.65 L568.70 383.73 L568.68 383.80 L568.65 383.88 L568.63 383.95 L568.61 384.02 L568.59 384.09 L568.57 384.16 L568.55 384.23 L568.54 384.30 L568.52 384.37 L568.51 384.44 L568.50 384.51 L568.49 384.58 L568.48 384.65 L568.48 384.72 L568.47 384.79 L568.47 384.86 L568.46 384.92 L568.46 384.99 Z" fill="none" stroke="#06B877" stroke-width="2"/>
<circle cx="558.06" cy="385.06" r="3.6" fill="none" stroke="#06B877" stroke-width="1.9"/>
<path d="M580.00 396.70 L580.00 396.74 L580.00 396.78 L580.00 396.82 L580.01 396.86 L580.01 396.90 L580.02 396.94 L580.02 396.98 L580.03 397.02 L580.03 397.06 L580.04 397.10 L580.05 397.14 L580.06 397.18 L580.07 397.22 L580.08 397.26 L580.10 397.30 L580.11 397.34 L580.13 397.38 L580.14 397.43 L580.16 397.47 L580.18 397.51 L580.20 397.56 L580.22 397.60 L580.25 397.65 L580.27 397.69 L580.30 397.74 L580.33 397.79 L580.36 397.84 L580.40 397.89 L580.43 397.94 L580.47 397.99 L580.52 398.04 L580.57 398.10 L580.62 398.15 L580.69 398.21 L580.76 398.28 L580.85 398.34 L580.96 398.42 L581.14 398.51 L581.35 398.62 L581.34 398.67 L581.33 398.72 L581.31 398.76 L581.30 398.81 L581.29 398.86 L581.27 398.91 L581.26 398.95 L581.24 399.00 L581.23 399.05 L581.21 399.10 L581.20 399.14 L581.18 399.19 L581.16 399.24 L581.15 399.28 L581.13 399.33 L581.11 399.38 L581.10 399.42 L581.08 399.47 L581.06 399.52 L581.04 399.56 L581.02 399.61 L581.00 399.65 L580.98 399.70 L580.96 399.75 L580.94 399.79 L580.92 399.84 L580.90 399.88 L580.88 399.93 L580.86 399.97 L580.84 400.02 L580.82 400.06 L580.79 400.11 L580.77 400.15 L580.75 400.19 L580.73 400.24 L580.70 400.28 L580.68 400.33 L580.66 400.37 L580.63 400.41 L580.61 400.46 L580.58 400.50 L580.56 400.54 L580.33 400.47 L580.14 400.41 L580.01 400.38 L579.89 400.37 L579.80 400.36 L579.71 400.36 L579.63 400.36 L579.56 400.36 L579.49 400.37 L579.42 400.38 L579.36 400.38 L579.30 400.40 L579.24 400.41 L579.19 400.42 L579.14 400.43 L579.09 400.45 L579.04 400.46 L578.99 400.48 L578.95 400.50 L578.90 400.51 L578.86 400.53 L578.82 400.55 L578.78 400.57 L578.74 400.59 L578.70 400.61 L578.66 400.63 L578.62 400.65 L578.59 400.67 L578.55 400.69 L578.52 400.72 L578.48 400.74 L578.45 400.76 L578.42 400.79 L578.39 400.81 L578.36 400.84 L578.33 400.86 L578.30 400.89 L578.27 400.92 L578.24 400.94 L578.22 400.97 L578.19 401.00 L578.16 401.03 L578.14 401.06 L578.11 401.09 L578.09 401.12 L578.06 401.15 L578.04 401.18 L578.02 401.22 L577.99 401.25 L577.97 401.29 L577.95 401.32 L577.93 401.36 L577.91 401.40 L577.89 401.44 L577.87 401.48 L577.85 401.52 L577.83 401.56 L577.81 401.60 L577.80 401.65 L577.78 401.69 L577.76 401.74 L577.75 401.79 L577.73 401.84 L577.72 401.89 L577.71 401.94 L577.70 402.00 L577.68 402.06 L577.68 402.12 L577.67 402.19 L577.66 402.26 L577.66 402.33 L577.66 402.41 L577.66 402.50 L577.67 402.59 L577.68 402.71 L577.71 402.84 L577.77 403.03 L577.84 403.26 L577.80 403.28 L577.76 403.31 L577.71 403.33 L577.67 403.36 L577.63 403.38 L577.58 403.40 L577.54 403.43 L577.49 403.45 L577.45 403.47 L577.41 403.49 L577.36 403.52 L577.32 403.54 L577.27 403.56 L577.23 403.58 L577.18 403.60 L577.14 403.62 L577.09 403.64 L577.05 403.66 L577.00 403.68 L576.95 403.70 L576.91 403.72 L576.86 403.74 L576.82 403.76 L576.77 403.78 L576.72 403.80 L576.68 403.81 L576.63 403.83 L576.58 403.85 L576.54 403.86 L576.49 403.88 L576.44 403.90 L576.40 403.91 L576.35 403.93 L576.30 403.94 L576.25 403.96 L576.21 403.97 L576.16 403.99 L576.11 404.00 L576.06 404.01 L576.02 404.03 L575.97 404.04 L575.92 404.05 L575.81 403.84 L575.72 403.66 L575.64 403.55 L575.58 403.46 L575.51 403.39 L575.45 403.32 L575.40 403.27 L575.34 403.22 L575.29 403.17 L575.24 403.13 L575.19 403.10 L575.14 403.06 L575.09 403.03 L575.04 403.00 L574.99 402.97 L574.95 402.95 L574.90 402.92 L574.86 402.90 L574.81 402.88 L574.77 402.86 L574.73 402.84 L574.68 402.83 L574.64 402.81 L574.60 402.80 L574.56 402.78 L574.52 402.77 L574.48 402.76 L574.44 402.75 L574.40 402.74 L574.36 402.73 L574.32 402.73 L574.28 402.72 L574.24 402.72 L574.20 402.71 L574.16 402.71 L574.12 402.70 L574.08 402.70 L574.04 402.70 L574.00 402.70 L573.96 402.70 L573.92 402.70 L573.88 402.70 L573.84 402.71 L573.80 402.71 L573.76 402.72 L573.72 402.72 L573.68 402.73 L573.64 402.73 L573.60 402.74 L573.56 402.75 L573.52 402.76 L573.48 402.77 L573.44 402.78 L573.40 402.80 L573.36 402.81 L573.32 402.83 L573.27 402.84 L573.23 402.86 L573.19 402.88 L573.14 402.90 L573.10 402.92 L573.05 402.95 L573.01 402.97 L572.96 403.00 L572.91 403.03 L572.86 403.06 L572.81 403.10 L572.76 403.13 L572.71 403.17 L572.66 403.22 L572.60 403.27 L572.55 403.32 L572.49 403.39 L572.42 403.46 L572.36 403.55 L572.28 403.66 L572.19 403.84 L572.08 404.05 L572.03 404.04 L571.98 404.03 L571.94 404.01 L571.89 404.00 L571.84 403.99 L571.79 403.97 L571.75 403.96 L571.70 403.94 L571.65 403.93 L571.60 403.91 L571.56 403.90 L571.51 403.88 L571.46 403.86 L571.42 403.85 L571.37 403.83 L571.32 403.81 L571.28 403.80 L571.23 403.78 L571.18 403.76 L571.14 403.74 L571.09 403.72 L571.05 403.70 L571.00 403.68 L570.95 403.66 L570.91 403.64 L570.86 403.62 L570.82 403.60 L570.77 403.58 L570.73 403.56 L570.68 403.54 L570.64 403.52 L570.59 403.49 L570.55 403.47 L570.51 403.45 L570.46 403.43 L570.42 403.40 L570.37 403.38 L570.33 403.36 L570.29 403.33 L570.24 403.31 L570.20 403.28 L570.16 403.26 L570.23 403.03 L570.29 402.84 L570.32 402.71 L570.33 402.59 L570.34 402.50 L570.34 402.41 L570.34 402.33 L570.34 402.26 L570.33 402.19 L570.32 402.12 L570.32 402.06 L570.30 402.00 L570.29 401.94 L570.28 401.89 L570.27 401.84 L570.25 401.79 L570.24 401.74 L570.22 401.69 L570.20 401.65 L570.19 401.60 L570.17 401.56 L570.15 401.52 L570.13 401.48 L570.11 401.44 L570.09 401.40 L570.07 401.36 L570.05 401.32 L570.03 401.29 L570.01 401.25 L569.98 401.22 L569.96 401.18 L569.94 401.15 L569.91 401.12 L569.89 401.09 L569.86 401.06 L569.84 401.03 L569.81 401.00 L569.78 400.97 L569.76 400.94 L569.73 400.92 L569.70 400.89 L569.67 400.86 L569.64 400.84 L569.61 400.81 L569.58 400.79 L569.55 400.76 L569.52 400.74 L569.48 400.72 L569.45 400.69 L569.41 400.67 L569.38 400.65 L569.34 400.63 L569.30 400.61 L569.26 400.59 L569.22 400.57 L569.18 400.55 L569.14 400.53 L569.10 400.51 L569.05 400.50 L569.01 400.48 L568.96 400.46 L568.91 400.45 L568.86 400.43 L568.81 400.42 L568.76 400.41 L568.70 400.40 L568.64 400.38 L568.58 400.38 L568.51 400.37 L568.44 400.36 L568.37 400.36 L568.29 400.36 L568.20 400.36 L568.11 400.37 L567.99 400.38 L567.86 400.41 L567.67 400.47 L567.44 400.54 L567.42 400.50 L567.39 400.46 L567.37 400.41 L567.34 400.37 L567.32 400.33 L567.30 400.28 L567.27 400.24 L567.25 400.19 L567.23 400.15 L567.21 400.11 L567.18 400.06 L567.16 400.02 L567.14 399.97 L567.12 399.93 L567.10 399.88 L567.08 399.84 L567.06 399.79 L567.04 399.75 L567.02 399.70 L567.00 399.65 L566.98 399.61 L566.96 399.56 L566.94 399.52 L566.92 399.47 L566.90 399.42 L566.89 399.38 L566.87 399.33 L566.85 399.28 L566.84 399.24 L566.82 399.19 L566.80 399.14 L566.79 399.10 L566.77 399.05 L566.76 399.00 L566.74 398.95 L566.73 398.91 L566.71 398.86 L566.70 398.81 L566.69 398.76 L566.67 398.72 L566.66 398.67 L566.65 398.62 L566.86 398.51 L567.04 398.42 L567.15 398.34 L567.24 398.28 L567.31 398.21 L567.38 398.15 L567.43 398.10 L567.48 398.04 L567.53 397.99 L567.57 397.94 L567.60 397.89 L567.64 397.84 L567.67 397.79 L567.70 397.74 L567.73 397.69 L567.75 397.65 L567.78 397.60 L567.80 397.56 L567.82 397.51 L567.84 397.47 L567.86 397.43 L567.87 397.38 L567.89 397.34 L567.90 397.30 L567.92 397.26 L567.93 397.22 L567.94 397.18 L567.95 397.14 L567.96 397.10 L567.97 397.06 L567.97 397.02 L567.98 396.98 L567.98 396.94 L567.99 396.90 L567.99 396.86 L568.00 396.82 L568.00 396.78 L568.00 396.74 L568.00 396.70 L568.00 396.66 L568.00 396.62 L568.00 396.58 L567.99 396.54 L567.99 396.50 L567.98 396.46 L567.98 396.42 L567.97 396.38 L567.97 396.34 L567.96 396.30 L567.95 396.26 L567.94 396.22 L567.93 396.18 L567.92 396.14 L567.90 396.10 L567.89 396.06 L567.87 396.02 L567.86 395.97 L567.84 395.93 L567.82 395.89 L567.80 395.84 L567.78 395.80 L567.75 395.75 L567.73 395.71 L567.70 395.66 L567.67 395.61 L567.64 395.56 L567.60 395.51 L567.57 395.46 L567.53 395.41 L567.48 395.36 L567.43 395.30 L567.38 395.25 L567.31 395.19 L567.24 395.12 L567.15 395.06 L567.04 394.98 L566.86 394.89 L566.65 394.78 L566.66 394.73 L566.67 394.68 L566.69 394.64 L566.70 394.59 L566.71 394.54 L566.73 394.49 L566.74 394.45 L566.76 394.40 L566.77 394.35 L566.79 394.30 L566.80 394.26 L566.82 394.21 L566.84 394.16 L566.85 394.12 L566.87 394.07 L566.89 394.02 L566.90 393.98 L566.92 393.93 L566.94 393.88 L566.96 393.84 L566.98 393.79 L567.00 393.75 L567.02 393.70 L567.04 393.65 L567.06 393.61 L567.08 393.56 L567.10 393.52 L567.12 393.47 L567.14 393.43 L567.16 393.38 L567.18 393.34 L567.21 393.29 L567.23 393.25 L567.25 393.21 L567.27 393.16 L567.30 393.12 L567.32 393.07 L567.34 393.03 L567.37 392.99 L567.39 392.94 L567.42 392.90 L567.44 392.86 L567.67 392.93 L567.86 392.99 L567.99 393.02 L568.11 393.03 L568.20 393.04 L568.29 393.04 L568.37 393.04 L568.44 393.04 L568.51 393.03 L568.58 393.02 L568.64 393.02 L568.70 393.00 L568.76 392.99 L568.81 392.98 L568.86 392.97 L568.91 392.95 L568.96 392.94 L569.01 392.92 L569.05 392.90 L569.10 392.89 L569.14 392.87 L569.18 392.85 L569.22 392.83 L569.26 392.81 L569.30 392.79 L569.34 392.77 L569.38 392.75 L569.41 392.73 L569.45 392.71 L569.48 392.68 L569.52 392.66 L569.55 392.64 L569.58 392.61 L569.61 392.59 L569.64 392.56 L569.67 392.54 L569.70 392.51 L569.73 392.48 L569.76 392.46 L569.78 392.43 L569.81 392.40 L569.84 392.37 L569.86 392.34 L569.89 392.31 L569.91 392.28 L569.94 392.25 L569.96 392.22 L569.98 392.18 L570.01 392.15 L570.03 392.11 L570.05 392.08 L570.07 392.04 L570.09 392.00 L570.11 391.96 L570.13 391.92 L570.15 391.88 L570.17 391.84 L570.19 391.80 L570.20 391.75 L570.22 391.71 L570.24 391.66 L570.25 391.61 L570.27 391.56 L570.28 391.51 L570.29 391.46 L570.30 391.40 L570.32 391.34 L570.32 391.28 L570.33 391.21 L570.34 391.14 L570.34 391.07 L570.34 390.99 L570.34 390.90 L570.33 390.81 L570.32 390.69 L570.29 390.56 L570.23 390.37 L570.16 390.14 L570.20 390.12 L570.24 390.09 L570.29 390.07 L570.33 390.04 L570.37 390.02 L570.42 390.00 L570.46 389.97 L570.51 389.95 L570.55 389.93 L570.59 389.91 L570.64 389.88 L570.68 389.86 L570.73 389.84 L570.77 389.82 L570.82 389.80 L570.86 389.78 L570.91 389.76 L570.95 389.74 L571.00 389.72 L571.05 389.70 L571.09 389.68 L571.14 389.66 L571.18 389.64 L571.23 389.62 L571.28 389.60 L571.32 389.59 L571.37 389.57 L571.42 389.55 L571.46 389.54 L571.51 389.52 L571.56 389.50 L571.60 389.49 L571.65 389.47 L571.70 389.46 L571.75 389.44 L571.79 389.43 L571.84 389.41 L571.89 389.40 L571.94 389.39 L571.98 389.37 L572.03 389.36 L572.08 389.35 L572.19 389.56 L572.28 389.74 L572.36 389.85 L572.42 389.94 L572.49 390.01 L572.55 390.08 L572.60 390.13 L572.66 390.18 L572.71 390.23 L572.76 390.27 L572.81 390.30 L572.86 390.34 L572.91 390.37 L572.96 390.40 L573.01 390.43 L573.05 390.45 L573.10 390.48 L573.14 390.50 L573.19 390.52 L573.23 390.54 L573.27 390.56 L573.32 390.57 L573.36 390.59 L573.40 390.60 L573.44 390.62 L573.48 390.63 L573.52 390.64 L573.56 390.65 L573.60 390.66 L573.64 390.67 L573.68 390.67 L573.72 390.68 L573.76 390.68 L573.80 390.69 L573.84 390.69 L573.88 390.70 L573.92 390.70 L573.96 390.70 L574.00 390.70 L574.04 390.70 L574.08 390.70 L574.12 390.70 L574.16 390.69 L574.20 390.69 L574.24 390.68 L574.28 390.68 L574.32 390.67 L574.36 390.67 L574.40 390.66 L574.44 390.65 L574.48 390.64 L574.52 390.63 L574.56 390.62 L574.60 390.60 L574.64 390.59 L574.68 390.57 L574.73 390.56 L574.77 390.54 L574.81 390.52 L574.86 390.50 L574.90 390.48 L574.95 390.45 L574.99 390.43 L575.04 390.40 L575.09 390.37 L575.14 390.34 L575.19 390.30 L575.24 390.27 L575.29 390.23 L575.34 390.18 L575.40 390.13 L575.45 390.08 L575.51 390.01 L575.58 389.94 L575.64 389.85 L575.72 389.74 L575.81 389.56 L575.92 389.35 L575.97 389.36 L576.02 389.37 L576.06 389.39 L576.11 389.40 L576.16 389.41 L576.21 389.43 L576.25 389.44 L576.30 389.46 L576.35 389.47 L576.40 389.49 L576.44 389.50 L576.49 389.52 L576.54 389.54 L576.58 389.55 L576.63 389.57 L576.68 389.59 L576.72 389.60 L576.77 389.62 L576.82 389.64 L576.86 389.66 L576.91 389.68 L576.95 389.70 L577.00 389.72 L577.05 389.74 L577.09 389.76 L577.14 389.78 L577.18 389.80 L577.23 389.82 L577.27 389.84 L577.32 389.86 L577.36 389.88 L577.41 389.91 L577.45 389.93 L577.49 389.95 L577.54 389.97 L577.58 390.00 L577.63 390.02 L577.67 390.04 L577.71 390.07 L577.76 390.09 L577.80 390.12 L577.84 390.14 L577.77 390.37 L577.71 390.56 L577.68 390.69 L577.67 390.81 L577.66 390.90 L577.66 390.99 L577.66 391.07 L577.66 391.14 L577.67 391.21 L577.68 391.28 L577.68 391.34 L577.70 391.40 L577.71 391.46 L577.72 391.51 L577.73 391.56 L577.75 391.61 L577.76 391.66 L577.78 391.71 L577.80 391.75 L577.81 391.80 L577.83 391.84 L577.85 391.88 L577.87 391.92 L577.89 391.96 L577.91 392.00 L577.93 392.04 L577.95 392.08 L577.97 392.11 L577.99 392.15 L578.02 392.18 L578.04 392.22 L578.06 392.25 L578.09 392.28 L578.11 392.31 L578.14 392.34 L578.16 392.37 L578.19 392.40 L578.22 392.43 L578.24 392.46 L578.27 392.48 L578.30 392.51 L578.33 392.54 L578.36 392.56 L578.39 392.59 L578.42 392.61 L578.45 392.64 L578.48 392.66 L578.52 392.68 L578.55 392.71 L578.59 392.73 L578.62 392.75 L578.66 392.77 L578.70 392.79 L578.74 392.81 L578.78 392.83 L578.82 392.85 L578.86 392.87 L578.90 392.89 L578.95 392.90 L578.99 392.92 L579.04 392.94 L579.09 392.95 L579.14 392.97 L579.19 392.98 L579.24 392.99 L579.30 393.00 L579.36 393.02 L579.42 393.02 L579.49 393.03 L579.56 393.04 L579.63 393.04 L579.71 393.04 L579.80 393.04 L579.89 393.03 L580.01 393.02 L580.14 392.99 L580.33 392.93 L580.56 392.86 L580.58 392.90 L580.61 392.94 L580.63 392.99 L580.66 393.03 L580.68 393.07 L580.70 393.12 L580.73 393.16 L580.75 393.21 L580.77 393.25 L580.79 393.29 L580.82 393.34 L580.84 393.38 L580.86 393.43 L580.88 393.47 L580.90 393.52 L580.92 393.56 L580.94 393.61 L580.96 393.65 L580.98 393.70 L581.00 393.75 L581.02 393.79 L581.04 393.84 L581.06 393.88 L581.08 393.93 L581.10 393.98 L581.11 394.02 L581.13 394.07 L581.15 394.12 L581.16 394.16 L581.18 394.21 L581.20 394.26 L581.21 394.30 L581.23 394.35 L581.24 394.40 L581.26 394.45 L581.27 394.49 L581.29 394.54 L581.30 394.59 L581.31 394.64 L581.33 394.68 L581.34 394.73 L581.35 394.78 L581.14 394.89 L580.96 394.98 L580.85 395.06 L580.76 395.12 L580.69 395.19 L580.62 395.25 L580.57 395.30 L580.52 395.36 L580.47 395.41 L580.43 395.46 L580.40 395.51 L580.36 395.56 L580.33 395.61 L580.30 395.66 L580.27 395.71 L580.25 395.75 L580.22 395.80 L580.20 395.84 L580.18 395.89 L580.16 395.93 L580.14 395.97 L580.13 396.02 L580.11 396.06 L580.10 396.10 L580.08 396.14 L580.07 396.18 L580.06 396.22 L580.05 396.26 L580.04 396.30 L580.03 396.34 L580.03 396.38 L580.02 396.42 L580.02 396.46 L580.01 396.50 L580.01 396.54 L580.00 396.58 L580.00 396.62 L580.00 396.66 Z" fill="#fff" stroke="#06B877" stroke-width="1.9"/>
<circle cx="574" cy="396.7" r="2.0" fill="none" stroke="#06B877" stroke-width="1.8"/>
<g transform="translate(644,198)" fill="none" stroke="#06B877" stroke-width="2.1"><path d="M9.5 18.1 H38.2"/><path d="M9.5 8.4 H17.2 C22.5 8.4 23.8 14 24.4 18.1 C25 22.2 22.5 27.9 17.2 27.9 H9.5"/><path d="M38.2 8.4 H31.6 C26.3 8.4 25 14 24.4 18.1 C23.8 22.2 26.3 27.9 31.6 27.9 H38.2"/><path d="M5.8 8.4 L9.9 4.800000000000001 L9.9 12.0 Z" fill="#06B877" stroke="none"/><path d="M41.9 8.4 L37.8 4.800000000000001 L37.8 12.0 Z" fill="#06B877" stroke="none"/><path d="M5.8 18.1 L9.9 14.500000000000002 L9.9 21.700000000000003 Z" fill="#06B877" stroke="none"/><path d="M41.9 18.1 L37.8 14.500000000000002 L37.8 21.700000000000003 Z" fill="#06B877" stroke="none"/><path d="M5.8 27.9 L9.9 24.299999999999997 L9.9 31.5 Z" fill="#06B877" stroke="none"/><path d="M41.9 27.9 L37.8 24.299999999999997 L37.8 31.5 Z" fill="#06B877" stroke="none"/></g>
<g transform="translate(644,270)" fill="none" stroke="#06B877" stroke-width="2.2" stroke-linecap="round"><rect x="7.1" y="6.5" width="33" height="25.1" rx="3"/><line x1="10.2" y1="37.5" x2="37.6" y2="37.5" stroke-width="2.4"/><path d="M19.2 16.9 L13.3 20.8 L19.2 24.7" stroke-width="2.7" stroke-linecap="butt" stroke-linejoin="miter"/><path d="M28.6 16.9 L34.5 20.8 L28.6 24.7" stroke-width="2.7" stroke-linecap="butt" stroke-linejoin="miter"/><path d="M25.5 12.2 L21.9 26.4" stroke-width="3.0" stroke-linecap="butt"/></g>
<g transform="translate(644,344)" fill="none" stroke="#06B877" stroke-width="2" stroke-linecap="round" stroke-linejoin="round"><path d="M19.1 27.9 H9.6 Q7.1 27.9 7.1 25.4 V10.2 Q7.1 7.7 9.6 7.7 H33.6 Q36.1 7.7 36.1 10.2 V17.1"/><line x1="13.1" y1="14.5" x2="33" y2="14.5"/><line x1="13.1" y1="22.8" x2="19.1" y2="22.8"/><path d="M22.5 16.2 L41.6 26.4 L29.6 27.9 L23.9 38.2 Z"/></g>
<g transform="translate(644,420)" fill="none" stroke="#06B877" stroke-width="2" stroke-linejoin="round"><path d="M7.1 35.5 V31.3 A6 6 0 0 0 7.1 19.3 V15.1 H14.5 A4.25 4.25 0 1 1 21.0 15.1 H28.1 V22.3 A4.2 4.2 0 1 1 28.1 29.0 V35.5 Z"/></g>
<g transform="translate(350,496)" fill="none" stroke="#06B877" stroke-width="2" stroke-linecap="round" stroke-linejoin="round"><path d="M24.8 4.5 Q18.5 8.8 11.6 8.8 V23.9 C11.6 30.8 18.5 34.6 24.8 36.9 C31.1 34.6 38.1 30.8 38.1 23.9 V8.8 Q31.1 8.8 24.8 4.5 Z"/><path d="M17.9 21.9 L24.8 27.8 L34.1 17"/></g>
<g transform="translate(862,192)" fill="none" stroke="#000000"><circle cx="15.8" cy="24.2" r="5.05" stroke-width="3.0"/><circle cx="15.8" cy="9" r="3.75" stroke-width="2.75"/><circle cx="15.8" cy="39.1" r="3.75" stroke-width="2.75"/><circle cx="28.5" cy="16.4" r="3.75" stroke-width="2.75"/><circle cx="28.5" cy="31.6" r="3.75" stroke-width="2.75"/><path d="M15.8 12.8 V19.2 M15.8 29.2 V35.3 M20.2 21.7 L25.2 18.6 M20.2 26.7 L25.2 29.6" stroke-width="2"/></g>
<g><path d="M867.9 274.70 Q882 272.50 896.1 274.70 V283.20 Q882 285.30 867.9 283.20 Z" fill="#00C8D2" stroke="#00C8D2" stroke-width="1.8" stroke-linejoin="round"/><path d="M869 277.00 Q882 279.00 895 277.00 V281.70 Q882 285.30 869 281.70 Z" fill="#F1FBFD"/><path d="M867.9 286.65 Q882 284.45 896.1 286.65 V295.15 Q882 297.25 867.9 295.15 Z" fill="#00C8D2" stroke="#00C8D2" stroke-width="1.8" stroke-linejoin="round"/><path d="M869 288.95 Q882 290.95 895 288.95 V293.65 Q882 297.25 869 293.65 Z" fill="#F1FBFD"/><path d="M867.9 298.60 Q882 296.40 896.1 298.60 V307.10 Q882 309.20 867.9 307.10 Z" fill="#00C8D2" stroke="#00C8D2" stroke-width="1.8" stroke-linejoin="round"/><path d="M869 300.90 Q882 302.90 895 300.90 V305.60 Q882 309.20 869 305.60 Z" fill="#F1FBFD"/></g>
<g transform="translate(860,344)" fill="none" stroke="#00C8D2" stroke-width="2.3"><rect x="6.85" y="7.65" width="13.5" height="13.4" rx="3.2"/><rect x="23.65" y="7.65" width="13.3" height="13.4" rx="3.2"/><rect x="6.85" y="24.0" width="13.5" height="13.7" rx="3.2"/><rect x="23.65" y="24.0" width="13.3" height="13.7" rx="3.2"/></g>
<path d="M895.70 441.90 L895.70 441.99 L895.70 442.08 L895.71 442.17 L895.71 442.26 L895.72 442.35 L895.73 442.44 L895.74 442.53 L895.76 442.63 L895.77 442.72 L895.79 442.81 L895.81 442.90 L895.83 443.00 L895.86 443.09 L895.88 443.18 L895.91 443.28 L895.94 443.38 L895.97 443.47 L896.01 443.57 L896.05 443.67 L896.09 443.77 L896.13 443.87 L896.18 443.97 L896.23 444.07 L896.29 444.18 L896.35 444.29 L896.41 444.39 L896.48 444.50 L896.56 444.62 L896.64 444.73 L896.72 444.85 L896.82 444.97 L896.93 445.09 L897.05 445.22 L897.19 445.36 L897.35 445.50 L897.54 445.65 L897.79 445.82 L898.18 446.03 L898.64 446.27 L898.61 446.38 L898.58 446.49 L898.55 446.60 L898.52 446.70 L898.49 446.81 L898.46 446.92 L898.42 447.03 L898.39 447.14 L898.35 447.25 L898.32 447.35 L898.28 447.46 L898.25 447.57 L898.21 447.67 L898.17 447.78 L898.13 447.89 L898.09 447.99 L898.05 448.10 L898.01 448.21 L897.97 448.31 L897.93 448.42 L897.88 448.52 L897.84 448.62 L897.80 448.73 L897.75 448.83 L897.70 448.94 L897.66 449.04 L897.61 449.14 L897.56 449.25 L897.51 449.35 L897.47 449.45 L897.42 449.55 L897.37 449.65 L897.31 449.75 L897.26 449.85 L897.21 449.96 L897.16 450.06 L897.10 450.15 L897.05 450.25 L896.99 450.35 L896.94 450.45 L896.88 450.55 L896.83 450.65 L896.33 450.49 L895.91 450.36 L895.61 450.30 L895.37 450.28 L895.16 450.26 L894.96 450.26 L894.79 450.27 L894.62 450.28 L894.47 450.30 L894.32 450.32 L894.18 450.34 L894.05 450.37 L893.92 450.40 L893.80 450.43 L893.69 450.46 L893.57 450.50 L893.46 450.53 L893.36 450.57 L893.25 450.61 L893.15 450.65 L893.06 450.70 L892.96 450.74 L892.87 450.78 L892.78 450.83 L892.70 450.88 L892.61 450.93 L892.53 450.98 L892.45 451.03 L892.37 451.08 L892.29 451.13 L892.21 451.19 L892.14 451.24 L892.07 451.30 L891.99 451.35 L891.92 451.41 L891.86 451.47 L891.79 451.53 L891.72 451.59 L891.66 451.66 L891.59 451.72 L891.53 451.79 L891.47 451.86 L891.41 451.92 L891.35 451.99 L891.30 452.07 L891.24 452.14 L891.19 452.21 L891.13 452.29 L891.08 452.37 L891.03 452.45 L890.98 452.53 L890.93 452.61 L890.88 452.70 L890.83 452.78 L890.78 452.87 L890.74 452.96 L890.70 453.06 L890.65 453.15 L890.61 453.25 L890.57 453.36 L890.53 453.46 L890.50 453.57 L890.46 453.69 L890.43 453.80 L890.40 453.92 L890.37 454.05 L890.34 454.18 L890.32 454.32 L890.30 454.47 L890.28 454.62 L890.27 454.79 L890.26 454.96 L890.26 455.16 L890.28 455.37 L890.30 455.61 L890.36 455.91 L890.49 456.33 L890.65 456.83 L890.55 456.88 L890.45 456.94 L890.35 456.99 L890.25 457.05 L890.15 457.10 L890.06 457.16 L889.96 457.21 L889.85 457.26 L889.75 457.31 L889.65 457.37 L889.55 457.42 L889.45 457.47 L889.35 457.51 L889.25 457.56 L889.14 457.61 L889.04 457.66 L888.94 457.70 L888.83 457.75 L888.73 457.80 L888.62 457.84 L888.52 457.88 L888.42 457.93 L888.31 457.97 L888.21 458.01 L888.10 458.05 L887.99 458.09 L887.89 458.13 L887.78 458.17 L887.67 458.21 L887.57 458.25 L887.46 458.28 L887.35 458.32 L887.25 458.35 L887.14 458.39 L887.03 458.42 L886.92 458.46 L886.81 458.49 L886.70 458.52 L886.60 458.55 L886.49 458.58 L886.38 458.61 L886.27 458.64 L886.03 458.18 L885.82 457.79 L885.65 457.54 L885.50 457.35 L885.36 457.19 L885.22 457.05 L885.09 456.93 L884.97 456.82 L884.85 456.72 L884.73 456.64 L884.62 456.56 L884.50 456.48 L884.39 456.41 L884.29 456.35 L884.18 456.29 L884.07 456.23 L883.97 456.18 L883.87 456.13 L883.77 456.09 L883.67 456.05 L883.57 456.01 L883.47 455.97 L883.38 455.94 L883.28 455.91 L883.18 455.88 L883.09 455.86 L883.00 455.83 L882.90 455.81 L882.81 455.79 L882.72 455.77 L882.63 455.76 L882.53 455.74 L882.44 455.73 L882.35 455.72 L882.26 455.71 L882.17 455.71 L882.08 455.70 L881.99 455.70 L881.90 455.70 L881.81 455.70 L881.72 455.70 L881.63 455.71 L881.54 455.71 L881.45 455.72 L881.36 455.73 L881.27 455.74 L881.17 455.76 L881.08 455.77 L880.99 455.79 L880.90 455.81 L880.80 455.83 L880.71 455.86 L880.62 455.88 L880.52 455.91 L880.42 455.94 L880.33 455.97 L880.23 456.01 L880.13 456.05 L880.03 456.09 L879.93 456.13 L879.83 456.18 L879.73 456.23 L879.62 456.29 L879.51 456.35 L879.41 456.41 L879.30 456.48 L879.18 456.56 L879.07 456.64 L878.95 456.72 L878.83 456.82 L878.71 456.93 L878.58 457.05 L878.44 457.19 L878.30 457.35 L878.15 457.54 L877.98 457.79 L877.77 458.18 L877.53 458.64 L877.42 458.61 L877.31 458.58 L877.20 458.55 L877.10 458.52 L876.99 458.49 L876.88 458.46 L876.77 458.42 L876.66 458.39 L876.55 458.35 L876.45 458.32 L876.34 458.28 L876.23 458.25 L876.13 458.21 L876.02 458.17 L875.91 458.13 L875.81 458.09 L875.70 458.05 L875.59 458.01 L875.49 457.97 L875.38 457.93 L875.28 457.88 L875.18 457.84 L875.07 457.80 L874.97 457.75 L874.86 457.70 L874.76 457.66 L874.66 457.61 L874.55 457.56 L874.45 457.51 L874.35 457.47 L874.25 457.42 L874.15 457.37 L874.05 457.31 L873.95 457.26 L873.84 457.21 L873.74 457.16 L873.65 457.10 L873.55 457.05 L873.45 456.99 L873.35 456.94 L873.25 456.88 L873.15 456.83 L873.31 456.33 L873.44 455.91 L873.50 455.61 L873.52 455.37 L873.54 455.16 L873.54 454.96 L873.53 454.79 L873.52 454.62 L873.50 454.47 L873.48 454.32 L873.46 454.18 L873.43 454.05 L873.40 453.92 L873.37 453.80 L873.34 453.69 L873.30 453.57 L873.27 453.46 L873.23 453.36 L873.19 453.25 L873.15 453.15 L873.10 453.06 L873.06 452.96 L873.02 452.87 L872.97 452.78 L872.92 452.70 L872.87 452.61 L872.82 452.53 L872.77 452.45 L872.72 452.37 L872.67 452.29 L872.61 452.21 L872.56 452.14 L872.50 452.07 L872.45 451.99 L872.39 451.92 L872.33 451.86 L872.27 451.79 L872.21 451.72 L872.14 451.66 L872.08 451.59 L872.01 451.53 L871.94 451.47 L871.88 451.41 L871.81 451.35 L871.73 451.30 L871.66 451.24 L871.59 451.19 L871.51 451.13 L871.43 451.08 L871.35 451.03 L871.27 450.98 L871.19 450.93 L871.10 450.88 L871.02 450.83 L870.93 450.78 L870.84 450.74 L870.74 450.70 L870.65 450.65 L870.55 450.61 L870.44 450.57 L870.34 450.53 L870.23 450.50 L870.11 450.46 L870.00 450.43 L869.88 450.40 L869.75 450.37 L869.62 450.34 L869.48 450.32 L869.33 450.30 L869.18 450.28 L869.01 450.27 L868.84 450.26 L868.64 450.26 L868.43 450.28 L868.19 450.30 L867.89 450.36 L867.47 450.49 L866.97 450.65 L866.92 450.55 L866.86 450.45 L866.81 450.35 L866.75 450.25 L866.70 450.15 L866.64 450.06 L866.59 449.96 L866.54 449.85 L866.49 449.75 L866.43 449.65 L866.38 449.55 L866.33 449.45 L866.29 449.35 L866.24 449.25 L866.19 449.14 L866.14 449.04 L866.10 448.94 L866.05 448.83 L866.00 448.73 L865.96 448.62 L865.92 448.52 L865.87 448.42 L865.83 448.31 L865.79 448.21 L865.75 448.10 L865.71 447.99 L865.67 447.89 L865.63 447.78 L865.59 447.67 L865.55 447.57 L865.52 447.46 L865.48 447.35 L865.45 447.25 L865.41 447.14 L865.38 447.03 L865.34 446.92 L865.31 446.81 L865.28 446.70 L865.25 446.60 L865.22 446.49 L865.19 446.38 L865.16 446.27 L865.62 446.03 L866.01 445.82 L866.26 445.65 L866.45 445.50 L866.61 445.36 L866.75 445.22 L866.87 445.09 L866.98 444.97 L867.08 444.85 L867.16 444.73 L867.24 444.62 L867.32 444.50 L867.39 444.39 L867.45 444.29 L867.51 444.18 L867.57 444.07 L867.62 443.97 L867.67 443.87 L867.71 443.77 L867.75 443.67 L867.79 443.57 L867.83 443.47 L867.86 443.38 L867.89 443.28 L867.92 443.18 L867.94 443.09 L867.97 443.00 L867.99 442.90 L868.01 442.81 L868.03 442.72 L868.04 442.63 L868.06 442.53 L868.07 442.44 L868.08 442.35 L868.09 442.26 L868.09 442.17 L868.10 442.08 L868.10 441.99 L868.10 441.90 L868.10 441.81 L868.10 441.72 L868.09 441.63 L868.09 441.54 L868.08 441.45 L868.07 441.36 L868.06 441.27 L868.04 441.17 L868.03 441.08 L868.01 440.99 L867.99 440.90 L867.97 440.80 L867.94 440.71 L867.92 440.62 L867.89 440.52 L867.86 440.42 L867.83 440.33 L867.79 440.23 L867.75 440.13 L867.71 440.03 L867.67 439.93 L867.62 439.83 L867.57 439.73 L867.51 439.62 L867.45 439.51 L867.39 439.41 L867.32 439.30 L867.24 439.18 L867.16 439.07 L867.08 438.95 L866.98 438.83 L866.87 438.71 L866.75 438.58 L866.61 438.44 L866.45 438.30 L866.26 438.15 L866.01 437.98 L865.62 437.77 L865.16 437.53 L865.19 437.42 L865.22 437.31 L865.25 437.20 L865.28 437.10 L865.31 436.99 L865.34 436.88 L865.38 436.77 L865.41 436.66 L865.45 436.55 L865.48 436.45 L865.52 436.34 L865.55 436.23 L865.59 436.13 L865.63 436.02 L865.67 435.91 L865.71 435.81 L865.75 435.70 L865.79 435.59 L865.83 435.49 L865.87 435.38 L865.92 435.28 L865.96 435.18 L866.00 435.07 L866.05 434.97 L866.10 434.86 L866.14 434.76 L866.19 434.66 L866.24 434.55 L866.29 434.45 L866.33 434.35 L866.38 434.25 L866.43 434.15 L866.49 434.05 L866.54 433.95 L866.59 433.84 L866.64 433.74 L866.70 433.65 L866.75 433.55 L866.81 433.45 L866.86 433.35 L866.92 433.25 L866.97 433.15 L867.47 433.31 L867.89 433.44 L868.19 433.50 L868.43 433.52 L868.64 433.54 L868.84 433.54 L869.01 433.53 L869.18 433.52 L869.33 433.50 L869.48 433.48 L869.62 433.46 L869.75 433.43 L869.88 433.40 L870.00 433.37 L870.11 433.34 L870.23 433.30 L870.34 433.27 L870.44 433.23 L870.55 433.19 L870.65 433.15 L870.74 433.10 L870.84 433.06 L870.93 433.02 L871.02 432.97 L871.10 432.92 L871.19 432.87 L871.27 432.82 L871.35 432.77 L871.43 432.72 L871.51 432.67 L871.59 432.61 L871.66 432.56 L871.73 432.50 L871.81 432.45 L871.88 432.39 L871.94 432.33 L872.01 432.27 L872.08 432.21 L872.14 432.14 L872.21 432.08 L872.27 432.01 L872.33 431.94 L872.39 431.88 L872.45 431.81 L872.50 431.73 L872.56 431.66 L872.61 431.59 L872.67 431.51 L872.72 431.43 L872.77 431.35 L872.82 431.27 L872.87 431.19 L872.92 431.10 L872.97 431.02 L873.02 430.93 L873.06 430.84 L873.10 430.74 L873.15 430.65 L873.19 430.55 L873.23 430.44 L873.27 430.34 L873.30 430.23 L873.34 430.11 L873.37 430.00 L873.40 429.88 L873.43 429.75 L873.46 429.62 L873.48 429.48 L873.50 429.33 L873.52 429.18 L873.53 429.01 L873.54 428.84 L873.54 428.64 L873.52 428.43 L873.50 428.19 L873.44 427.89 L873.31 427.47 L873.15 426.97 L873.25 426.92 L873.35 426.86 L873.45 426.81 L873.55 426.75 L873.65 426.70 L873.74 426.64 L873.84 426.59 L873.95 426.54 L874.05 426.49 L874.15 426.43 L874.25 426.38 L874.35 426.33 L874.45 426.29 L874.55 426.24 L874.66 426.19 L874.76 426.14 L874.86 426.10 L874.97 426.05 L875.07 426.00 L875.18 425.96 L875.28 425.92 L875.38 425.87 L875.49 425.83 L875.59 425.79 L875.70 425.75 L875.81 425.71 L875.91 425.67 L876.02 425.63 L876.13 425.59 L876.23 425.55 L876.34 425.52 L876.45 425.48 L876.55 425.45 L876.66 425.41 L876.77 425.38 L876.88 425.34 L876.99 425.31 L877.10 425.28 L877.20 425.25 L877.31 425.22 L877.42 425.19 L877.53 425.16 L877.77 425.62 L877.98 426.01 L878.15 426.26 L878.30 426.45 L878.44 426.61 L878.58 426.75 L878.71 426.87 L878.83 426.98 L878.95 427.08 L879.07 427.16 L879.18 427.24 L879.30 427.32 L879.41 427.39 L879.51 427.45 L879.62 427.51 L879.73 427.57 L879.83 427.62 L879.93 427.67 L880.03 427.71 L880.13 427.75 L880.23 427.79 L880.33 427.83 L880.42 427.86 L880.52 427.89 L880.62 427.92 L880.71 427.94 L880.80 427.97 L880.90 427.99 L880.99 428.01 L881.08 428.03 L881.17 428.04 L881.27 428.06 L881.36 428.07 L881.45 428.08 L881.54 428.09 L881.63 428.09 L881.72 428.10 L881.81 428.10 L881.90 428.10 L881.99 428.10 L882.08 428.10 L882.17 428.09 L882.26 428.09 L882.35 428.08 L882.44 428.07 L882.53 428.06 L882.63 428.04 L882.72 428.03 L882.81 428.01 L882.90 427.99 L883.00 427.97 L883.09 427.94 L883.18 427.92 L883.28 427.89 L883.38 427.86 L883.47 427.83 L883.57 427.79 L883.67 427.75 L883.77 427.71 L883.87 427.67 L883.97 427.62 L884.07 427.57 L884.18 427.51 L884.29 427.45 L884.39 427.39 L884.50 427.32 L884.62 427.24 L884.73 427.16 L884.85 427.08 L884.97 426.98 L885.09 426.87 L885.22 426.75 L885.36 426.61 L885.50 426.45 L885.65 426.26 L885.82 426.01 L886.03 425.62 L886.27 425.16 L886.38 425.19 L886.49 425.22 L886.60 425.25 L886.70 425.28 L886.81 425.31 L886.92 425.34 L887.03 425.38 L887.14 425.41 L887.25 425.45 L887.35 425.48 L887.46 425.52 L887.57 425.55 L887.67 425.59 L887.78 425.63 L887.89 425.67 L887.99 425.71 L888.10 425.75 L888.21 425.79 L888.31 425.83 L888.42 425.87 L888.52 425.92 L888.62 425.96 L888.73 426.00 L888.83 426.05 L888.94 426.10 L889.04 426.14 L889.14 426.19 L889.25 426.24 L889.35 426.29 L889.45 426.33 L889.55 426.38 L889.65 426.43 L889.75 426.49 L889.85 426.54 L889.96 426.59 L890.06 426.64 L890.15 426.70 L890.25 426.75 L890.35 426.81 L890.45 426.86 L890.55 426.92 L890.65 426.97 L890.49 427.47 L890.36 427.89 L890.30 428.19 L890.28 428.43 L890.26 428.64 L890.26 428.84 L890.27 429.01 L890.28 429.18 L890.30 429.33 L890.32 429.48 L890.34 429.62 L890.37 429.75 L890.40 429.88 L890.43 430.00 L890.46 430.11 L890.50 430.23 L890.53 430.34 L890.57 430.44 L890.61 430.55 L890.65 430.65 L890.70 430.74 L890.74 430.84 L890.78 430.93 L890.83 431.02 L890.88 431.10 L890.93 431.19 L890.98 431.27 L891.03 431.35 L891.08 431.43 L891.13 431.51 L891.19 431.59 L891.24 431.66 L891.30 431.73 L891.35 431.81 L891.41 431.88 L891.47 431.94 L891.53 432.01 L891.59 432.08 L891.66 432.14 L891.72 432.21 L891.79 432.27 L891.86 432.33 L891.92 432.39 L891.99 432.45 L892.07 432.50 L892.14 432.56 L892.21 432.61 L892.29 432.67 L892.37 432.72 L892.45 432.77 L892.53 432.82 L892.61 432.87 L892.70 432.92 L892.78 432.97 L892.87 433.02 L892.96 433.06 L893.06 433.10 L893.15 433.15 L893.25 433.19 L893.36 433.23 L893.46 433.27 L893.57 433.30 L893.69 433.34 L893.80 433.37 L893.92 433.40 L894.05 433.43 L894.18 433.46 L894.32 433.48 L894.47 433.50 L894.62 433.52 L894.79 433.53 L894.96 433.54 L895.16 433.54 L895.37 433.52 L895.61 433.50 L895.91 433.44 L896.33 433.31 L896.83 433.15 L896.88 433.25 L896.94 433.35 L896.99 433.45 L897.05 433.55 L897.10 433.65 L897.16 433.74 L897.21 433.84 L897.26 433.95 L897.31 434.05 L897.37 434.15 L897.42 434.25 L897.47 434.35 L897.51 434.45 L897.56 434.55 L897.61 434.66 L897.66 434.76 L897.70 434.86 L897.75 434.97 L897.80 435.07 L897.84 435.18 L897.88 435.28 L897.93 435.38 L897.97 435.49 L898.01 435.59 L898.05 435.70 L898.09 435.81 L898.13 435.91 L898.17 436.02 L898.21 436.13 L898.25 436.23 L898.28 436.34 L898.32 436.45 L898.35 436.55 L898.39 436.66 L898.42 436.77 L898.46 436.88 L898.49 436.99 L898.52 437.10 L898.55 437.20 L898.58 437.31 L898.61 437.42 L898.64 437.53 L898.18 437.77 L897.79 437.98 L897.54 438.15 L897.35 438.30 L897.19 438.44 L897.05 438.58 L896.93 438.71 L896.82 438.83 L896.72 438.95 L896.64 439.07 L896.56 439.18 L896.48 439.30 L896.41 439.41 L896.35 439.51 L896.29 439.62 L896.23 439.73 L896.18 439.83 L896.13 439.93 L896.09 440.03 L896.05 440.13 L896.01 440.23 L895.97 440.33 L895.94 440.42 L895.91 440.52 L895.88 440.62 L895.86 440.71 L895.83 440.80 L895.81 440.90 L895.79 440.99 L895.77 441.08 L895.76 441.17 L895.74 441.27 L895.73 441.36 L895.72 441.45 L895.71 441.54 L895.71 441.63 L895.70 441.72 L895.70 441.81 Z" fill="none" stroke="#00C8D2" stroke-width="2"/>
<circle cx="881.9" cy="441.9" r="4.7" fill="none" stroke="#00C8D2" stroke-width="2"/>
<g fill="none" stroke="#6B4EFF" stroke-width="1.9"><circle cx="116.9" cy="617" r="18"/><ellipse cx="116.9" cy="617" rx="7.4" ry="18"/><line x1="98.9" y1="617.5" x2="134.9" y2="617.5"/></g>
<text x="323.3" y="625.6" font-family="Liberation Sans" font-weight="normal" font-size="25" fill="#232F3E" stroke="#232F3E" stroke-width="0.5" textLength="38.5" lengthAdjust="spacingAndGlyphs">aws</text>
<path d="M322.6 628.6 Q343 647.5 361.4 631 Q343 641.5 322.6 628.6 Z" fill="#FF9900" stroke="#FF9900" stroke-width="0.8" stroke-linejoin="round"/><path d="M357.4 629.9 L364.1 629.1 L361.9 635.6" fill="none" stroke="#FF9900" stroke-width="2" stroke-linecap="round" stroke-linejoin="round"/>
<path transform="translate(580.4,598.4)" d="M9 30 H34 Q43 30 43 21.5 Q43 14 35.5 12.5 Q32.5 1 22 1 Q12.5 1 9.5 9.5 Q1 11 1 20.5 Q1 30 9 30 Z" fill="none" stroke="#222222" stroke-width="2" stroke-linejoin="round"/>
<path transform="translate(899,598.1)" d="M9 30 H34 Q43 30 43 21.5 Q43 14 35.5 12.5 Q32.5 1 22 1 Q12.5 1 9.5 9.5 Q1 11 1 20.5 Q1 30 9 30 Z" fill="none" stroke="#00C8D2" stroke-width="2" stroke-linejoin="round"/>
</svg>
<div class="t" style="left:117.80px;transform:translateX(-50%);top:75.72px;font-size:19px;line-height:19px;color:#222222;font-weight:normal;letter-spacing:0.78px;-webkit-text-stroke:0.6px #222222;">Devices</div>
<div class="t" style="left:117.50px;transform:translateX(-50%);top:103.42px;font-size:19px;line-height:19px;color:#222222;font-weight:normal;letter-spacing:0.35px;-webkit-text-stroke:0.6px #222222;">Edge</div>
<div class="t" style="left:513.30px;transform:translateX(-50%);top:75.72px;font-size:19px;line-height:19px;color:#00B86B;font-weight:normal;letter-spacing:0.7px;-webkit-text-stroke:0.6px #00B86B;">EMQX Cloud</div>
<div class="t" style="left:917.10px;transform:translateX(-50%);top:75.32px;font-size:19px;line-height:19px;color:#222222;font-weight:normal;letter-spacing:1.05px;-webkit-text-stroke:0.6px #222222;">Application</div>
<div class="t" style="left:916.80px;transform:translateX(-50%);top:103.22px;font-size:19px;line-height:19px;color:#222222;font-weight:normal;letter-spacing:0.45px;-webkit-text-stroke:0.6px #222222;">Data</div>
<div class="t" style="left:439.40px;top:130.57px;font-size:20px;line-height:20px;color:#3E3879;font-weight:normal;letter-spacing:0.23px;">Management&amp;Monitor</div>
<div class="t" style="left:254.70px;top:305.20px;font-size:20px;line-height:20px;color:#3E3879;letter-spacing:0.22px;transform:translate(-50%,-50%) rotate(-90deg)">Connectivity</div>
<div class="t" style="left:358.00px;top:308.75px;font-size:20px;line-height:20px;color:#3E3879;letter-spacing:0.18px;transform:translate(-50%,-50%) rotate(-90deg)">Protocols</div>
<div class="t" style="left:461.30px;top:306.75px;font-size:20px;line-height:20px;color:#3E3879;letter-spacing:0.04px;transform:translate(-50%,-50%) rotate(-90deg)">Message Routing</div>
<div class="t" style="left:563.80px;top:306.50px;font-size:20px;line-height:20px;color:#3E3879;letter-spacing:-0.21px;transform:translate(-50%,-50%) rotate(-90deg)">Rule Engine</div>
<div class="t" style="left:700.80px;top:206.67px;font-size:20px;line-height:20px;color:#3E3879;font-weight:normal;letter-spacing:0.03px;">Bridges</div>
<div class="t" style="left:701.40px;top:281.97px;font-size:20px;line-height:20px;color:#3E3879;font-weight:normal;letter-spacing:-0.1px;">Backends</div>
<div class="t" style="left:700.90px;top:356.97px;font-size:20px;line-height:20px;color:#36306F;font-weight:normal;letter-spacing:0.4px;-webkit-text-stroke:0.45px #36306F;">Actions</div>
<div class="t" style="left:701.20px;top:431.67px;font-size:20px;line-height:20px;color:#36306F;font-weight:normal;letter-spacing:0.15px;-webkit-text-stroke:0.45px #36306F;">Plugins</div>
<div class="t" style="left:402.00px;top:506.97px;font-size:20px;line-height:20px;color:#3E3879;font-weight:normal;letter-spacing:0.47px;">Security/Authentication/ACL</div>
<div class="t" style="left:912.70px;top:204.57px;font-size:20px;line-height:20px;color:#3B3E46;font-weight:normal;letter-spacing:0px;">Kafka</div>
<div class="t" style="left:912.70px;top:284.07px;font-size:20px;line-height:20px;color:#3B3E46;font-weight:normal;letter-spacing:0px;">DB</div>
<div class="t" style="left:912.70px;top:355.87px;font-size:20px;line-height:20px;color:#3B3E46;font-weight:normal;letter-spacing:-0.34px;">Services</div>
<div class="t" style="left:912.70px;top:431.37px;font-size:20px;line-height:20px;color:#3B3E46;font-weight:normal;letter-spacing:-0.33px;">Systems</div>
<div class="t" style="left:116.80px;transform:translateX(-50%);top:648.07px;font-size:20px;line-height:20px;color:#3B3E46;font-weight:normal;letter-spacing:0.12px;">Network</div>
<div class="t" style="left:343.00px;transform:translateX(-50%);top:647.77px;font-size:20px;line-height:20px;color:#3B3E46;font-weight:normal;letter-spacing:-0.58px;">aws</div>
<div class="t" style="left:601.80px;transform:translateX(-50%);top:647.47px;font-size:20px;line-height:20px;color:#3B3E46;font-weight:normal;letter-spacing:0.19px;">All Leading Public Cloud</div>
<div class="t" style="left:920.60px;transform:translateX(-50%);top:640.87px;font-size:20px;line-height:20px;color:#3B3E46;font-weight:normal;letter-spacing:0.17px;">Cloud</div>
</body></html>
